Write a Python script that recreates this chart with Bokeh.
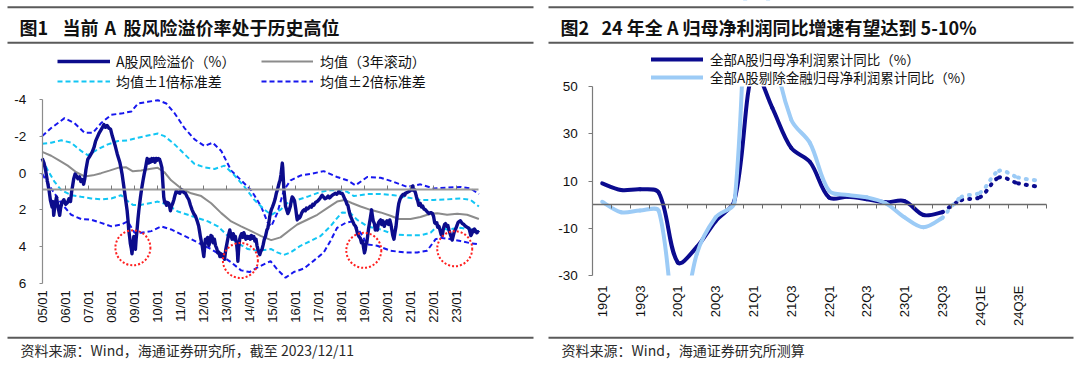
import math
from bokeh.plotting import figure
from bokeh.layouts import row
from bokeh.models import Range1d, LinearAxis, FixedTicker, Legend, LegendItem, Label, BoxAnnotation
from bokeh.embed import file_html
from bokeh.resources import INLINE

# ---------------- left chart data (year, value) ----------------
risk_premium = [
    (2005.00, -0.80), (2005.08, -0.55), (2005.15, -0.15), (2005.22, 0.40), (2005.30, 0.95), (2005.36, 1.50),
    (2005.43, 1.85), (2005.47, 1.55), (2005.50, 2.30), (2005.55, 1.80), (2005.62, 1.30), (2005.67, 1.70),
    (2005.72, 2.05), (2005.76, 2.30), (2005.80, 1.90), (2005.86, 1.60), (2005.94, 1.45), (2006.02, 1.70),
    (2006.10, 1.60), (2006.16, 1.40), (2006.23, 1.55), (2006.28, 1.00), (2006.32, 0.70), (2006.37, 0.30),
    (2006.43, 0.05), (2006.49, 0.15), (2006.55, 0.30), (2006.62, 0.20), (2006.68, 0.45), (2006.74, 0.35),
    (2006.80, 0.60), (2006.85, 0.30), (2006.90, -0.20), (2006.98, -0.75), (2007.08, -0.95), (2007.17, -1.15),
    (2007.25, -1.40), (2007.32, -1.75), (2007.39, -1.95), (2007.46, -2.15), (2007.53, -2.30), (2007.60, -2.45),
    (2007.68, -2.65), (2007.75, -2.50), (2007.82, -2.60), (2007.90, -2.45), (2007.97, -2.40), (2008.04, -2.05),
    (2008.11, -1.75), (2008.18, -1.45), (2008.26, -1.05), (2008.32, -0.80), (2008.37, -0.60), (2008.42, -0.30),
    (2008.47, 0.05), (2008.52, 0.50), (2008.57, 0.95), (2008.63, 1.50), (2008.69, 2.05), (2008.73, 2.60),
    (2008.76, 3.10), (2008.80, 3.50), (2008.83, 3.85), (2008.87, 4.10), (2008.90, 4.40), (2008.94, 3.90),
    (2008.98, 3.45), (2009.02, 3.90), (2009.05, 4.15), (2009.08, 3.60), (2009.12, 3.10), (2009.16, 2.50),
    (2009.20, 2.00), (2009.24, 1.60), (2009.27, 1.30), (2009.32, 0.85), (2009.38, 0.40), (2009.43, 0.05),
    (2009.49, -0.30), (2009.53, -0.60), (2009.56, -0.80), (2009.62, -0.55), (2009.66, -0.75), (2009.70, -0.60),
    (2009.76, -0.80), (2009.80, -0.65), (2009.85, -0.80), (2009.90, -0.60), (2009.95, -0.80), (2009.99, -0.70),
    (2010.05, -0.80), (2010.10, -0.75), (2010.15, -0.55), (2010.20, -0.30), (2010.24, 0.50), (2010.28, 1.30),
    (2010.32, 1.60), (2010.35, 1.55), (2010.40, 1.75), (2010.45, 1.60), (2010.50, 1.65), (2010.54, 1.85),
    (2010.57, 2.05), (2010.62, 1.80), (2010.67, 1.65), (2010.72, 1.45), (2010.77, 1.20), (2010.83, 0.95),
    (2010.90, 1.05), (2010.98, 1.10), (2011.03, 0.90), (2011.08, 0.95), (2011.15, 1.05), (2011.22, 1.10),
    (2011.30, 1.30), (2011.37, 1.45), (2011.44, 1.75), (2011.51, 2.00), (2011.58, 2.20), (2011.66, 2.35),
    (2011.73, 2.60), (2011.80, 2.90), (2011.84, 3.20), (2011.87, 3.45), (2011.91, 3.70), (2011.95, 3.95),
    (2011.99, 4.30), (2012.02, 4.55), (2012.06, 4.00), (2012.09, 3.60), (2012.14, 3.80), (2012.19, 3.50),
    (2012.24, 3.95), (2012.29, 3.70), (2012.33, 3.40), (2012.38, 3.45), (2012.43, 3.80), (2012.48, 3.60),
    (2012.53, 3.95), (2012.58, 4.10), (2012.63, 4.35), (2012.67, 4.30), (2012.72, 4.55), (2012.77, 4.40),
    (2012.81, 4.55), (2012.86, 4.45), (2012.92, 4.70), (2012.97, 4.20), (2013.03, 3.80), (2013.09, 3.40),
    (2013.15, 3.10), (2013.20, 3.40), (2013.25, 3.60), (2013.30, 3.30), (2013.35, 3.60), (2013.39, 3.45),
    (2013.44, 3.80), (2013.48, 4.30), (2013.50, 4.80), (2013.54, 4.00), (2013.58, 3.60), (2013.61, 3.45),
    (2013.66, 3.30), (2013.71, 3.50), (2013.76, 3.25), (2013.80, 3.40), (2013.85, 3.60), (2013.90, 3.45),
    (2013.95, 3.55), (2014.00, 3.45), (2014.04, 3.60), (2014.09, 3.40), (2014.14, 3.55), (2014.19, 3.45),
    (2014.24, 3.70), (2014.29, 3.60), (2014.33, 3.95), (2014.38, 4.20), (2014.42, 4.35), (2014.45, 4.45),
    (2014.50, 4.25), (2014.55, 4.15), (2014.60, 3.90), (2014.65, 3.60), (2014.70, 3.45), (2014.76, 3.10),
    (2014.80, 3.00), (2014.84, 2.75), (2014.88, 2.40), (2014.91, 2.20), (2014.95, 2.00), (2015.00, 1.85),
    (2015.06, 1.65), (2015.12, 1.40), (2015.17, 1.10), (2015.21, 0.95), (2015.26, 0.70), (2015.30, 0.50),
    (2015.33, 0.40), (2015.37, 0.10), (2015.40, -0.20), (2015.43, -0.55), (2015.45, -0.30), (2015.47, 0.20),
    (2015.50, 0.90), (2015.54, 1.40), (2015.57, 1.80), (2015.62, 2.00), (2015.67, 2.20), (2015.72, 2.05),
    (2015.78, 1.80), (2015.82, 1.50), (2015.86, 1.30), (2015.90, 1.35), (2015.96, 1.50), (2016.02, 2.00),
    (2016.06, 2.40), (2016.08, 2.55), (2016.12, 2.35), (2016.17, 2.45), (2016.22, 2.35), (2016.28, 2.15),
    (2016.33, 2.05), (2016.37, 2.00), (2016.43, 2.05), (2016.48, 1.90), (2016.53, 1.95), (2016.58, 1.90),
    (2016.64, 1.80), (2016.70, 1.85), (2016.75, 1.70), (2016.80, 1.75), (2016.87, 1.60), (2016.94, 1.55),
    (2017.02, 1.45), (2017.08, 1.35), (2017.16, 1.20), (2017.22, 1.30), (2017.28, 1.40), (2017.35, 1.35),
    (2017.42, 1.25), (2017.48, 1.35), (2017.53, 1.30), (2017.60, 1.20), (2017.67, 1.15), (2017.74, 1.10),
    (2017.80, 1.15), (2017.89, 1.00), (2017.95, 1.10), (2018.03, 1.10), (2018.09, 1.25), (2018.14, 1.40),
    (2018.20, 1.55), (2018.24, 1.70), (2018.28, 1.75), (2018.33, 2.05), (2018.38, 2.30), (2018.43, 2.45),
    (2018.48, 2.60), (2018.55, 2.80), (2018.61, 2.90), (2018.66, 3.10), (2018.70, 3.30), (2018.76, 3.45),
    (2018.82, 3.55), (2018.87, 3.80), (2018.92, 3.70), (2018.96, 4.05), (2019.00, 4.35), (2019.03, 4.20),
    (2019.06, 3.90), (2019.10, 3.80), (2019.14, 3.40), (2019.18, 3.00), (2019.22, 2.70), (2019.26, 2.40),
    (2019.31, 2.00), (2019.35, 2.40), (2019.38, 2.60), (2019.43, 2.75), (2019.47, 3.10), (2019.52, 2.85),
    (2019.56, 3.10), (2019.61, 2.70), (2019.66, 2.60), (2019.70, 2.55), (2019.75, 2.80), (2019.80, 2.60),
    (2019.86, 2.90), (2019.92, 2.70), (2019.98, 2.60), (2020.04, 2.80), (2020.10, 2.55), (2020.15, 2.80),
    (2020.19, 3.10), (2020.23, 3.40), (2020.28, 3.60), (2020.33, 3.20), (2020.37, 2.90), (2020.42, 2.30),
    (2020.46, 1.90), (2020.49, 1.65), (2020.55, 1.40), (2020.60, 1.30), (2020.64, 1.20), (2020.70, 1.15),
    (2020.75, 1.20), (2020.78, 1.10), (2020.85, 1.05), (2020.93, 1.00), (2021.00, 0.95), (2021.05, 0.85),
    (2021.10, 0.70), (2021.13, 0.95), (2021.17, 0.90), (2021.22, 1.10), (2021.26, 1.30), (2021.31, 1.50),
    (2021.36, 1.75), (2021.42, 1.65), (2021.48, 1.85), (2021.53, 1.80), (2021.58, 1.95), (2021.65, 2.00),
    (2021.72, 2.10), (2021.80, 2.20), (2021.88, 2.15), (2021.95, 2.20), (2022.00, 2.35), (2022.05, 2.70),
    (2022.09, 2.75), (2022.14, 2.70), (2022.18, 2.95), (2022.23, 2.90), (2022.28, 3.10), (2022.33, 3.35),
    (2022.38, 3.40), (2022.43, 3.00), (2022.48, 2.80), (2022.52, 2.75), (2022.57, 2.90), (2022.62, 2.85),
    (2022.67, 3.10), (2022.72, 3.30), (2022.76, 3.45), (2022.81, 3.65), (2022.86, 3.40), (2022.90, 3.20),
    (2022.96, 3.05), (2023.02, 2.85), (2023.06, 2.70), (2023.10, 2.65), (2023.17, 2.60), (2023.25, 2.75),
    (2023.32, 2.80), (2023.39, 2.90), (2023.46, 2.95), (2023.54, 3.00), (2023.58, 3.20), (2023.62, 3.40),
    (2023.65, 3.35), (2023.70, 3.10), (2023.74, 3.20), (2023.78, 3.05), (2023.83, 3.15), (2023.88, 3.25),
    (2023.93, 3.20), (2023.97, 3.25),
]
rolling_mean = [
    (2005.00, -1.16), (2005.39, -0.95), (2005.75, -0.68), (2006.11, -0.41), (2006.48, -0.05), (2006.84, 0.18),
    (2007.20, 0.12), (2007.56, 0.00), (2007.92, -0.14), (2008.29, -0.29), (2008.65, -0.32), (2008.94, -0.10),
    (2009.30, -0.14), (2009.66, -0.23), (2010.02, -0.29), (2010.31, -0.05), (2010.60, 0.39), (2011.04, 0.84),
    (2011.47, 1.10), (2011.91, 1.25), (2012.34, 1.64), (2012.78, 2.18), (2013.21, 2.63), (2013.64, 2.90),
    (2014.08, 3.16), (2014.51, 3.43), (2014.95, 3.65), (2015.35, 3.50), (2015.79, 3.07), (2016.08, 2.80),
    (2016.51, 2.54), (2016.95, 2.27), (2017.38, 1.91), (2017.81, 1.55), (2018.13, 1.46), (2018.47, 1.64),
    (2018.83, 1.82), (2019.26, 2.00), (2019.70, 2.14), (2020.13, 2.32), (2020.49, 2.50), (2021.00, 2.50),
    (2021.43, 2.39), (2021.87, 2.21), (2022.16, 2.18), (2022.59, 2.27), (2023.03, 2.21), (2023.46, 2.27),
    (2023.97, 2.50),
]
band1_upper = [
    (2005.00, -1.60), (2005.39, -1.66), (2005.83, -1.79), (2006.26, -1.66), (2006.69, -1.21), (2006.98, -0.98),
    (2007.42, -1.30), (2007.85, -1.57), (2008.29, -1.75), (2008.72, -1.79), (2009.16, -1.93), (2009.59, -2.05),
    (2010.02, -2.16), (2010.31, -2.02), (2010.75, -1.57), (2011.18, -1.04), (2011.62, -0.50), (2012.05, -0.32),
    (2012.49, -0.23), (2012.92, -0.41), (2013.36, 0.13), (2013.79, 0.75), (2014.22, 1.46), (2014.66, 2.00),
    (2014.95, 2.27), (2015.35, 2.00), (2015.64, 1.64), (2016.08, 1.46), (2016.51, 1.29), (2017.09, 1.02),
    (2017.52, 0.93), (2017.96, 0.93), (2018.25, 1.02), (2018.54, 1.25), (2019.12, 1.14), (2019.70, 1.14),
    (2020.28, 1.20), (2020.86, 1.32), (2021.43, 1.46), (2022.01, 1.46), (2022.59, 1.43), (2023.17, 1.38),
    (2023.61, 1.46), (2023.97, 1.82),
]
band1_lower = [
    (2005.00, -0.77), (2005.25, -0.14), (2005.54, 0.48), (2005.83, 0.93), (2006.26, 1.20), (2006.69, 1.29),
    (2007.13, 1.38), (2007.56, 1.43), (2008.00, 1.38), (2008.43, 1.20), (2008.65, 1.46), (2008.94, 1.73),
    (2009.30, 1.73), (2009.66, 1.64), (2010.02, 1.55), (2010.46, 1.73), (2010.89, 2.09), (2011.33, 2.27),
    (2011.76, 2.45), (2012.20, 2.63), (2012.63, 2.90), (2013.07, 3.43), (2013.50, 3.82), (2013.93, 4.14),
    (2014.37, 4.23), (2014.95, 4.14), (2015.21, 4.32), (2015.50, 4.46), (2015.79, 4.32), (2016.22, 3.96),
    (2016.66, 3.70), (2017.09, 3.43), (2017.52, 2.90), (2017.81, 2.45), (2018.03, 2.14), (2018.39, 2.18),
    (2018.68, 2.54), (2019.12, 2.90), (2019.70, 3.07), (2020.28, 3.34), (2020.86, 3.39), (2021.43, 3.39),
    (2021.87, 3.25), (2022.16, 2.90), (2022.59, 3.07), (2023.17, 2.98), (2023.61, 3.07), (2023.97, 3.16),
]
band2_upper = [
    (2005.00, -2.02), (2005.39, -2.46), (2005.97, -3.00), (2006.40, -2.73), (2006.84, -2.20), (2007.20, -2.20),
    (2007.56, -2.73), (2008.00, -3.18), (2008.50, -3.27), (2008.87, -3.36), (2009.16, -3.80), (2009.59, -3.89),
    (2010.02, -3.98), (2010.39, -3.80), (2010.75, -3.27), (2011.18, -2.46), (2011.62, -1.84), (2012.05, -1.48),
    (2012.41, -1.66), (2012.78, -1.21), (2013.21, -0.14), (2013.64, 0.39), (2014.08, 0.93), (2014.51, 1.82),
    (2014.80, 2.71), (2014.95, 2.90), (2015.21, 2.18), (2015.50, 0.93), (2015.79, 0.39), (2016.22, 0.13),
    (2016.66, 0.04), (2017.23, -0.11), (2017.81, 0.21), (2018.25, 0.39), (2018.61, 0.66), (2019.12, 0.21),
    (2019.70, 0.25), (2020.28, 0.48), (2020.86, 0.75), (2021.43, 0.61), (2022.01, 0.84), (2022.59, 0.79),
    (2023.17, 0.75), (2023.61, 0.84), (2023.97, 1.14),
]
band2_lower = [
    (2005.00, 0.04), (2005.39, 0.84), (2005.83, 1.64), (2006.26, 2.27), (2006.69, 2.50), (2007.13, 2.54),
    (2007.56, 2.71), (2008.00, 2.90), (2008.43, 2.80), (2008.72, 2.63), (2009.01, 3.25), (2009.30, 3.25),
    (2009.74, 3.16), (2010.17, 2.90), (2010.60, 3.07), (2011.04, 3.34), (2011.47, 3.60), (2011.91, 3.88),
    (2012.34, 4.14), (2012.78, 4.50), (2013.21, 4.86), (2013.64, 5.30), (2014.01, 5.39), (2014.37, 5.13),
    (2014.92, 4.80), (2015.21, 5.25), (2015.57, 5.70), (2015.93, 5.39), (2016.37, 5.20), (2016.80, 4.77),
    (2017.23, 4.32), (2017.52, 3.70), (2017.81, 2.98), (2018.18, 2.71), (2018.47, 2.63), (2018.83, 3.25),
    (2019.12, 3.88), (2019.55, 3.96), (2020.13, 4.23), (2020.71, 4.32), (2021.29, 4.32), (2021.72, 4.23),
    (2022.09, 3.60), (2022.30, 3.52), (2022.74, 3.60), (2023.17, 3.70), (2023.61, 3.82), (2023.97, 3.88),
]
highlight_years = [2008.94, 2013.61, 2018.97, 2022.92]
highlight_values = [4.07, 4.76, 4.21, 4.12]
year_ticks = list(range(2005, 2024))
year_labels = ["05/01", "06/01", "07/01", "08/01", "09/01", "10/01", "11/01", "12/01", "13/01", "14/01",
               "15/01", "16/01", "17/01", "18/01", "19/01", "20/01", "21/01", "22/01", "23/01"]
left_y_ticks = [-4, -2, 0, 2, 4, 6]

# ---------------- right chart data ----------------
quarters = ["19Q1", "19Q2", "19Q3", "19Q4", "20Q1", "20Q2", "20Q3", "20Q4", "21Q1", "21Q2", "21Q3", "21Q4",
            "22Q1", "22Q2", "22Q3", "22Q4", "23Q1", "23Q2", "23Q3", "23Q4E", "24Q1E", "24Q2E", "24Q3E", "24Q4E"]
all_a = [9.0, 6.2, 6.5, 5.0, -24.5, -18.0, -7.0, 1.8, 57.0, 41.0, 24.0, 18.0,
         3.0, 3.3, 2.3, 1.0, 1.5, -4.4, -3.2]
ex_fin = [1.2, -3.2, -2.5, -2.8, -58.0, -21.0, -5.4, 1.0, 150.0, 70.0, 36.0, 26.0,
          5.9, 4.1, 3.1, 0.6, -5.4, -9.6, -5.6]
all_a_forecast = [1.9, 3.2, 11.5, 9.0, 7.7]
ex_fin_forecast = [3.2, 5.1, 14.3, 11.5, 10.2]
right_y_ticks = [-30, -10, 10, 30, 50]
right_label_idx = list(range(0, 24, 2))

# ---------------- styling ----------------
CJK = "Noto Sans CJK SC"
LAT = "Liberation Sans"
NAVY = "#0c0c8c"
GRAY = "#8c8c8c"
CYAN = "#12c6f4"
BLUE = "#1717ee"
RED = "#ff2020"
DARK = "#0b0b8f"
LIGHT = "#9ccbf6"
RULE = "#5a5a5a"
W, H = 540, 365

# pixel -> data helpers (frame covers the whole figure)
LPX, LPY = 23.02, 18.34           # px per year, px per unit (left)
LX0 = 2005 - 41.7 / LPX
LY0 = -4 - 99.3 / LPY


def lx(px):
    return LX0 + px / LPX


def ly(py):
    return LY0 + py / LPY


RPX, RPY = 18.9, 2.3625           # px per quarter, px per unit (right)
RX0 = -61.7 / RPX
RY0 = 50 + 86.0 / RPY


def rx(px):
    return RX0 + px / RPX


def ry(py):
    return RY0 - py / RPY


def split(pairs):
    return [p[0] for p in pairs], [p[1] for p in pairs]


def smooth_parts(xs, ys, sx, sy):
    """Bezier control points (Excel-like smoothing) computed in pixel space."""
    P = [(x * sx, y * sy) for x, y in zip(xs, ys)]
    n = len(P)

    def dist(a, b):
        return math.hypot(P[a][0] - P[b][0], P[a][1] - P[b][1])

    cin, cout = [None] * n, [None] * n
    for i in range(n):
        if i == 0:
            cout[i] = (P[0][0] + (P[1][0] - P[0][0]) / 6, P[0][1] + (P[1][1] - P[0][1]) / 6)
        elif i == n - 1:
            cin[i] = (P[i][0] - (P[i][0] - P[i - 1][0]) / 6, P[i][1] - (P[i][1] - P[i - 1][1]) / 6)
        else:
            tx, ty = P[i + 1][0] - P[i - 1][0], P[i + 1][1] - P[i - 1][1]
            d0, d1 = dist(i - 1, i), dist(i, i + 1)
            s = d0 + d1
            cin[i] = (P[i][0] - tx * d0 / s / 3, P[i][1] - ty * d0 / s / 3)
            cout[i] = (P[i][0] + tx * d1 / s / 3, P[i][1] + ty * d1 / s / 3)
    d = dict(x0=[], y0=[], x1=[], y1=[], cx0=[], cy0=[], cx1=[], cy1=[])
    for i in range(n - 1):
        d["x0"].append(xs[i]); d["y0"].append(ys[i])
        d["x1"].append(xs[i + 1]); d["y1"].append(ys[i + 1])
        d["cx0"].append(cout[i][0] / sx); d["cy0"].append(cout[i][1] / sy)
        d["cx1"].append(cin[i + 1][0] / sx); d["cy1"].append(cin[i + 1][1] / sy)
    return d


def rule(p, fx, fy, x0, x1, y0, y1):
    p.add_layout(BoxAnnotation(left=fx(x0), right=fx(x1), top=fy(y0), bottom=fy(y1),
                               fill_color=RULE, fill_alpha=1.0, line_color=None, level="annotation"))


def text(p, fx, fy, px, py, s, size, bold=False, color="#111111", font=CJK):
    p.add_layout(Label(x=fx(px), y=fy(py), text=s, text_font=font, text_font_size=size,
                       text_font_style="bold" if bold else "normal",
                       text_color=color, text_baseline="middle", text_align="left"))


def hidden_labels(ticks):
    return {t: "" for t in ticks}


def make_fig(xr, yr):
    p = figure(width=W, height=H, output_backend="svg", toolbar_location=None,
               x_range=xr, y_range=yr, x_axis_type=None, y_axis_type=None,
               min_border=0, min_border_left=0, min_border_right=0,
               min_border_top=0, min_border_bottom=0)
    p.outline_line_color = None
    p.background_fill_color = "white"
    p.border_fill_color = "white"
    return p


leg_style = dict(background_fill_alpha=0, border_line_color=None, padding=0, margin=0, spacing=0,
                 glyph_height=20, label_height=20, label_text_font=CJK,
                 label_text_color="#111111")


def legend(p, renderer, label, gx, gw, cy, size, standoff):
    p.add_layout(Legend(items=[LegendItem(label=label, renderers=[renderer])],
                        location=(gx, H - (cy + 10)), glyph_width=gw, label_standoff=standoff,
                        label_text_font_size=size, **leg_style))


# ================= LEFT FIGURE =================
pL = make_fig(Range1d(lx(0), lx(W)), Range1d(ly(H), ly(0)))

x, y = split(band2_upper)
r_b2 = pL.line(x, y, line_color=BLUE, line_width=2, line_dash="5 3")
x, y = split(band2_lower)
pL.line(x, y, line_color=BLUE, line_width=2, line_dash="5 3")
x, y = split(band1_upper)
r_b1 = pL.line(x, y, line_color=CYAN, line_width=2, line_dash="5 3")
x, y = split(band1_lower)
pL.line(x, y, line_color=CYAN, line_width=2, line_dash="5 3")
x, y = split(rolling_mean)
r_mean = pL.line(x, y, line_color=GRAY, line_width=2)
x, y = split(risk_premium)
r_rp = pL.line(x, y, line_color=NAVY, line_width=3.4, line_join="round")
pL.scatter(highlight_years, highlight_values, marker="circle", size=35, fill_color=None,
           line_color=RED, line_width=2, line_dash="2 2")

yax = LinearAxis(fixed_location=2005, bounds=(-4, 6), ticker=FixedTicker(ticks=left_y_ticks),
                 major_label_overrides={t: str(t) for t in left_y_ticks},
                 axis_line_color=GRAY, axis_line_width=1.2,
                 major_tick_line_color=GRAY, major_tick_out=3, major_tick_in=0,
                 minor_tick_out=0, minor_tick_in=0, minor_tick_line_color=None,
                 major_label_standoff=13, major_label_text_font=LAT,
                 major_label_text_font_size="13.5px", major_label_text_color="#111111")
pL.add_layout(yax, "left")

xline = LinearAxis(fixed_location=0.9, bounds=(2005, 2023.97), ticker=FixedTicker(ticks=year_ticks),
                   major_label_overrides=hidden_labels(year_ticks),
                   axis_line_color="#9a9a9a", axis_line_width=2,
                   major_tick_line_color="#7a7a7a", major_tick_out=4, major_tick_in=0,
                   minor_tick_out=0, minor_tick_in=0, minor_tick_line_color=None,
                   major_label_text_color=None)
pL.add_layout(xline, "above")

xlab = LinearAxis(fixed_location=6, ticker=FixedTicker(ticks=year_ticks),
                  major_label_overrides=dict(zip(year_ticks, year_labels)),
                  axis_line_color=None, major_tick_line_color=None, minor_tick_line_color=None,
                  major_tick_out=0, major_tick_in=0, minor_tick_out=0, minor_tick_in=0,
                  major_label_orientation=math.pi / 2, major_label_standoff=7,
                  major_label_text_font=LAT, major_label_text_font_size="13px",
                  major_label_text_color="#111111")
pL.add_layout(xlab, "below")

legend(pL, r_rp, "A股风险溢价（%）", 57, 53, 61, "14px", 6)
legend(pL, r_b1, "均值±1倍标准差", 57, 53, 81, "14px", 6)
legend(pL, r_mean, "均值（3年滚动）", 261, 52, 61, "14px", 7)
legend(pL, r_b2, "均值±2倍标准差", 261, 52, 81, "14px", 7)

rule(pL, lx, ly, 7, 533, 5.7, 7.7)
rule(pL, lx, ly, 7, 533, 41.3, 43.3)
rule(pL, lx, ly, 7, 533, 336.3, 338.3)
text(pL, lx, ly, 19, 26, "图1", "18px", bold=True)
text(pL, lx, ly, 62, 26, "当前", "18px", bold=True)
text(pL, lx, ly, 104, 26, "A", "18px", bold=True)
text(pL, lx, ly, 123, 26, "股风险溢价率处于历史高位", "18px", bold=True)
text(pL, lx, ly, 20, 349, "资料来源：Wind，海通证券研究所，截至 2023/12/11", "14px", color="#2a2a2a")

# ================= RIGHT FIGURE =================
pR = make_fig(Range1d(rx(0), rx(W)), Range1d(ry(H), ry(0)))

idx_actual = list(range(len(all_a)))
idx_fc = list(range(len(all_a) - 1, len(all_a) + len(all_a_forecast)))

r_dark = pR.bezier(**smooth_parts(idx_actual, all_a, RPX, RPY), line_color=DARK, line_width=4, line_cap="round")
pR.bezier(**smooth_parts(idx_fc, [all_a[-1]] + all_a_forecast, RPX, RPY), line_color=DARK, line_width=4,
          line_cap="round", line_dash="1 7")
r_light = pR.bezier(**smooth_parts(idx_actual, ex_fin, RPX, RPY), line_color=LIGHT, line_width=4, line_cap="round")
pR.bezier(**smooth_parts(idx_fc, [ex_fin[-1]] + ex_fin_forecast, RPX, RPY), line_color=LIGHT, line_width=4,
          line_cap="round", line_dash="1 7")
# white masks: the plot area ends at 50 and -30 (values beyond are clipped, as in the original)
pR.quad(left=[rx(0)], right=[rx(W)], bottom=[50], top=[ry(0)], fill_color="white", line_color=None)
pR.quad(left=[rx(0)], right=[rx(W)], bottom=[ry(H)], top=[-30], fill_color="white", line_color=None)

ryax = LinearAxis(fixed_location=-0.5, bounds=(-30, 50), ticker=FixedTicker(ticks=right_y_ticks),
                  major_label_overrides={t: str(t) for t in right_y_ticks},
                  axis_line_color="#7a7a7a", axis_line_width=1.2,
                  major_tick_line_color="#7a7a7a", major_tick_out=4, major_tick_in=0,
                  minor_tick_out=0, minor_tick_in=0, minor_tick_line_color=None,
                  major_label_standoff=11, major_label_text_font=LAT,
                  major_label_text_font_size="13.5px", major_label_text_color="#111111")
pR.add_layout(ryax, "left")

bounds_ticks = [i - 0.5 for i in range(len(quarters) + 1)]
rxline = LinearAxis(fixed_location=0, bounds=(-0.5, len(quarters) - 0.5), ticker=FixedTicker(ticks=bounds_ticks),
                    major_label_overrides=hidden_labels(bounds_ticks),
                    axis_line_color="#6a6a6a", axis_line_width=1.5,
                    major_tick_line_color="#6a6a6a", major_tick_in=4, major_tick_out=0,
                    minor_tick_out=0, minor_tick_in=0, minor_tick_line_color=None,
                    major_label_text_color=None)
pR.add_layout(rxline, "above")

rxlab = LinearAxis(fixed_location=-30, ticker=FixedTicker(ticks=right_label_idx),
                   major_label_overrides={i: quarters[i] for i in right_label_idx},
                   axis_line_color=None, major_tick_line_color=None, minor_tick_line_color=None,
                   major_tick_out=0, major_tick_in=0, minor_tick_out=0, minor_tick_in=0,
                   major_label_orientation=math.pi / 2, major_label_standoff=10,
                   major_label_text_font=LAT, major_label_text_font_size="13px",
                   major_label_text_color="#111111")
pR.add_layout(rxlab, "below")

legend(pR, r_dark, "全部A股归母净利润累计同比（%）", 111, 52, 58.5, "13.5px", 7)
legend(pR, r_light, "全部A股剔除金融归母净利润累计同比（%）", 111, 52, 77, "13.5px", 7)

rule(pR, rx, ry, 8, 533, 5.7, 7.7)
rule(pR, rx, ry, 8, 533, 41.3, 43.3)
rule(pR, rx, ry, 8, 533, 336.3, 338.3)
text(pR, rx, ry, 20, 26, "图2", "18px", bold=True)
text(pR, rx, ry, 61, 26, "24 年全 A 归母净利润同比增速有望达到 5-10%", "18px", bold=True)
text(pR, rx, ry, 21, 349, "资料来源：Wind，海通证券研究所测算", "14px", color="#2a2a2a")

layout = row(pL, pR)
open("out.html", "w").write(file_html(layout, INLINE))
